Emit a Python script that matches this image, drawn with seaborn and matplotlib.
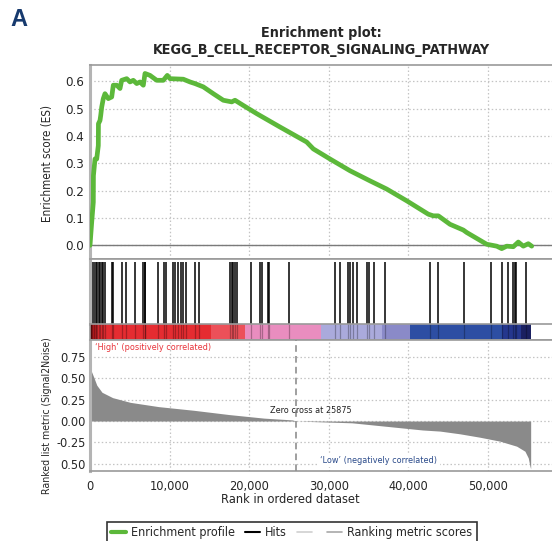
import numpy as np
import pandas as pd
import matplotlib
matplotlib.use("Agg")
import matplotlib.pyplot as plt
from matplotlib.lines import Line2D
import seaborn as sns

# ---------------- data ----------------
es_rank = [0, 214, 415, 430, 628, 842, 1043, 1060, 1256, 1345, 1470, 1671, 1884, 2299, 2726,
           2927, 3354, 3769, 3982, 4611, 5025, 5440, 5867, 6282, 6697, 6910, 7538, 8380, 9209,
           9711, 10050, 11721, 12563, 13191, 14234, 15490, 16747, 17802, 18216, 19259, 20943,
           23870, 27224, 28053, 30151, 32664, 35176, 37274, 39787, 42500, 43128, 43757, 45227,
           46898, 47325, 49838, 51094, 51722, 52350, 53179, 53808, 54436, 55064, 55491]
es_value = [0.0, 0.085, 0.158, 0.255, 0.316, 0.316, 0.365, 0.445, 0.457, 0.475, 0.506, 0.537,
            0.555, 0.537, 0.543, 0.586, 0.586, 0.574, 0.604, 0.610, 0.598, 0.604, 0.592, 0.598,
            0.586, 0.629, 0.622, 0.604, 0.604, 0.622, 0.610, 0.608, 0.598, 0.592, 0.580, 0.555,
            0.531, 0.525, 0.531, 0.512, 0.482, 0.433, 0.378, 0.353, 0.316, 0.273, 0.236, 0.206,
            0.163, 0.114, 0.108, 0.108, 0.077, 0.056, 0.047, 0.004, -0.003, -0.012, -0.003,
            -0.005, 0.012, -0.003, 0.006, -0.003]

hit_ranks = [126, 314, 503, 691, 879, 1068, 1256, 1470, 1671, 1884, 2802, 2940, 3970, 4485,
             5653, 6658, 6847, 6972, 8505, 9234, 9485, 10377, 10616, 11106, 11370, 11746,
             12060, 13191, 13731, 17563, 17777, 17990, 18216, 18417, 20226, 21294, 21646,
             22312, 22538, 24963, 30716, 31382, 32350, 32714, 33066, 33594, 34837, 35051,
             35717, 37048, 42752, 43682, 46986, 50378, 51760, 52539, 53193, 53406, 53557, 54776]

metric_rank = [0, 100, 415, 854, 1507, 2851, 5062, 8605, 13027, 17449, 21860, 25415, 25875,
               32915, 37350, 41770, 43970, 46480, 48990, 51500, 53600, 54640, 55060, 55270, 55360]
metric_value = [0.60, 0.60, 0.527, 0.42, 0.337, 0.274, 0.219, 0.169, 0.126, 0.076, 0.034, 0.013,
                0.0, -0.021, -0.063, -0.105, -0.118, -0.15, -0.19, -0.236, -0.295, -0.354,
                -0.433, -0.53, -0.56]

band_edges = [0, 300, 854, 15235, 19435, 29033, 36680, 40225, 51730, 54140, 55400]
band_colors = ["#7a0c10", "#b81a1f", "#e52c31", "#ec5059", "#e98dbf", "#aaaadc",
               "#8a8ac8", "#2d4ea3", "#25378e", "#1a2060"]

zero_cross = 25875
x_ticks = [0, 10000, 20000, 30000, 40000, 50000]
x_ticklabels = ["0", "10,000", "20,000", "30,000", "40,000", "50,000"]
es_ticks = [0.0, 0.1, 0.2, 0.3, 0.4, 0.5, 0.6]
es_ticklabels = ["0.0", "0.1", "0.2", "0.3", "0.4", "0.5", "0.6"]
metric_ticks = [0.75, 0.5, 0.25, 0.0, -0.25, -0.5]
metric_ticklabels = ["0.75", "0.50", "0.25", "0.00", "-0.25", "0.50"]

# ---------------- style ----------------
sns.set_theme(style="white")
FAM = ["Liberation Sans Narrow", "DejaVu Sans"]
plt.rcParams["font.family"] = FAM
plt.rcParams["font.stretch"] = "condensed"

W, H = 552, 541
fig = plt.figure(figsize=(W / 100, H / 100), dpi=100)

def fx(px):
    return px / W

def fy(py):
    return 1 - py / H

left = fx(90)
width = 1 - left
XMAX = 58040

ax_es = fig.add_axes([left, fy(259), width, fy(65) - fy(259)])
ax_hit = fig.add_axes([left, fy(324), width, fy(259) - fy(324)])
ax_cb = fig.add_axes([left, fy(340), width, fy(324) - fy(340)])
ax_rk = fig.add_axes([left, fy(470.5), width, fy(340) - fy(470.5)])

SPINE = "#9a9a9a"
GRID = "#c4c4c4"

def style_axes(ax, grid=True):
    for s in ax.spines.values():
        s.set_color(SPINE)
        s.set_linewidth(1.2)
    ax.spines["right"].set_visible(False)
    ax.spines["left"].set_linewidth(2.2)
    ax.spines["left"].set_color("#b4b4b4")
    ax.set_xlim(0, XMAX)
    if grid:
        ax.grid(True, color=GRID, linestyle=(0, (1.2, 1.8)), linewidth=0.9)
        ax.set_axisbelow(True)

# ---- ES panel ----
es_df = pd.DataFrame({"rank": es_rank, "es": es_value})
style_axes(ax_es)
ax_es.axhline(0, color="#7a7a7a", linewidth=1.0, zorder=2)
sns.lineplot(data=es_df, x="rank", y="es", ax=ax_es, color="#5cb83a", linewidth=3.4,
             zorder=3, legend=False)
ax_es.set_ylim(-0.05, 0.66)
ax_es.set_xticks(x_ticks)
ax_es.set_xticklabels([])
ax_es.set_yticks(es_ticks)
ax_es.set_yticklabels(es_ticklabels, fontsize=9.5)
ax_es.tick_params(axis="both", length=0, pad=4)
ax_es.set_xlabel("")
ax_es.set_ylabel("Enrichment score (ES)", fontsize=8.4)
ax_es.yaxis.set_label_coords(-0.078, 0.49)
ax_es.set_title("Enrichment plot:\nKEGG_B_CELL_RECEPTOR_SIGNALING_PATHWAY",
                fontsize=10.3, fontweight="bold", linespacing=1.25, pad=8)

# ---- hits panel ----
style_axes(ax_hit, grid=False)
ax_hit.spines["bottom"].set_visible(False)
ax_hit.vlines(hit_ranks, 0.0, 0.955, color="black", linewidth=1.1)
ax_hit.set_ylim(0, 1)
ax_hit.set_xticks([])
ax_hit.set_yticks([])

# ---- colour bar ----
style_axes(ax_cb, grid=False)
ax_cb.spines["left"].set_linewidth(1.2)
ax_cb.spines["left"].set_color(SPINE)
ax_cb.bar(band_edges[:-1], 1.0, width=np.diff(band_edges), align="edge",
          color=band_colors, linewidth=0)
ax_cb.vlines(hit_ranks, 0, 1, color="black", linewidth=0.9, alpha=0.28)
ax_cb.set_ylim(0, 1)
ax_cb.set_xticks([])
ax_cb.set_yticks([])

# ---- ranked metric panel ----
style_axes(ax_rk)
ax_rk.fill_between(metric_rank, metric_value, 0, color="#8a8a8a", linewidth=0, zorder=2)
ax_rk.axvline(zero_cross, color="#8f8f8f", linestyle=(0, (4, 2.5)), linewidth=1.2, zorder=3)
ax_rk.set_ylim(-0.58, 0.95)
ax_rk.set_xticks(x_ticks)
ax_rk.set_xticklabels(x_ticklabels, fontsize=9.2)
ax_rk.set_yticks(metric_ticks)
ax_rk.set_yticklabels(metric_ticklabels, fontsize=9.2)
ax_rk.tick_params(axis="y", length=0, pad=3)
ax_rk.tick_params(axis="x", length=3, color="#8a8a8a", direction="inout", pad=5)
ax_rk.set_xlabel("Rank in ordered dataset", fontsize=9.2)
ax_rk.xaxis.set_label_coords(0.433, -0.17)
ax_rk.set_ylabel("Ranked list metric (Signal2Noise)", fontsize=7.6)
ax_rk.yaxis.set_label_coords(-0.082, 0.42)

ax_rk.text(600, 0.86, "\u2018High\u2019 (positively correlated)", color="#e8333a",
           fontsize=6.5, ha="left", va="center")
ax_rk.text(27700, 0.12, "Zero cross at 25875", color="#222222", fontsize=6.5,
           ha="center", va="center", zorder=4)
ax_rk.text(36300, -0.46, "\u2018Low\u2019 (negatively correlated)", color="#2a4a8a",
           fontsize=6.5, ha="center", va="center", zorder=4,
           bbox=dict(facecolor="white", edgecolor="none", pad=1.5))

# ---- legend ----
handles = [Line2D([], [], color="#5cb83a", linewidth=3),
           Line2D([], [], color="black", linewidth=1.5),
           Line2D([], [], color="#d0d0d0", linewidth=1.2),
           Line2D([], [], color="#a8a8a8", linewidth=1.2)]
labels = ["Enrichment profile", "Hits", "", "Ranking metric scores"]
leg = fig.legend(handles, labels, loc="upper left", bbox_to_anchor=(fx(107), fy(522)),
                 ncol=4, fontsize=9, frameon=True, fancybox=False, handlelength=1.2,
                 handletextpad=0.4, columnspacing=0.8, borderpad=0.35, borderaxespad=0)
leg.get_frame().set_edgecolor("black")
leg.get_frame().set_linewidth(1.2)

# panel letter
fig.text(fx(10), fy(20), "A", fontsize=17, fontweight="bold", color="#173a6e",
         ha="left", va="center", family=["Liberation Sans", "DejaVu Sans"])

fig.savefig("out.png", dpi=100)
